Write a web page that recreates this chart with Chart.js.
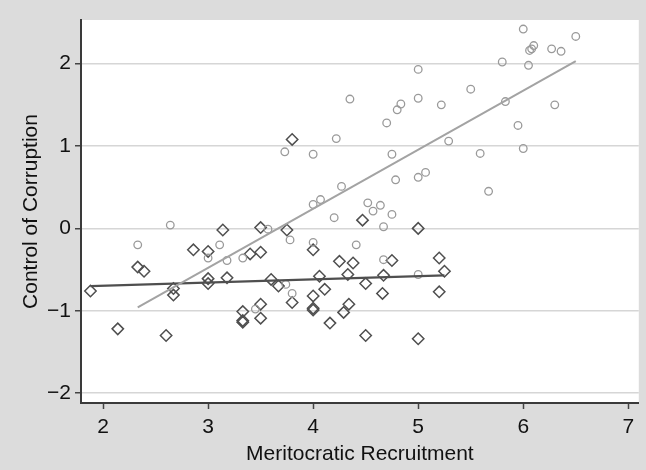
<!DOCTYPE html>
<html>
<head>
<meta charset="utf-8">
<script src="https://cdn.jsdelivr.net/npm/chart.js@4/dist/chart.umd.min.js"></script>
<style>
  html,body{margin:0;padding:0;background:#dcdcdc;}
  #wrap{width:646px;height:470px;}
</style>
</head>
<body>
<div id="wrap"><canvas id="c" width="646" height="470"></canvas></div>
<script>
/* axes */
const xTicks = [2,3,4,5,6,7];
const yTicks = [-2,-1,0,1,2];
const xTitle = 'Meritocratic Recruitment';
const yTitle = 'Control of Corruption';

/* circles (upper group) */
const circleX = [2.64,2.33,3.11,3.00,3.18,3.33,3.57,3.45,3.74,3.80,3.78,4.00,4.41,4.67,5.00,4.20,4.67,4.75,4.57,4.64,
  4.52,4.00,4.07,4.27,4.785,5.00,5.07,3.73,4.00,4.75,4.22,5.29,5.59,4.70,4.35,4.80,4.835,5.00,5.22,5.00,
  5.50,5.67,6.00,5.95,5.83,6.30,5.80,6.05,6.00,6.50,6.10,6.06,6.08,6.27,6.36];
const circleY = [0.04,-0.20,-0.20,-0.36,-0.39,-0.36,-0.01,-0.98,-0.68,-0.79,-0.14,-0.17,-0.20,-0.38,-0.56,0.13,0.02,0.17,0.21,0.28,
  0.31,0.29,0.35,0.51,0.59,0.62,0.68,0.93,0.90,0.90,1.09,1.06,0.91,1.28,1.57,1.44,1.51,1.58,1.50,1.93,
  1.69,0.45,0.97,1.25,1.54,1.50,2.02,1.98,2.42,2.33,2.22,2.16,2.18,2.18,2.15];

/* diamonds (lower group) */
const diamondX = [1.88,2.14,2.33,2.39,2.60,2.67,2.67,2.86,3.00,3.00,3.00,3.14,3.18,3.33,3.33,3.33,3.40,3.50,3.50,3.50,
  3.50,3.60,3.67,3.75,3.80,3.80,4.00,4.00,4.00,4.00,4.06,4.11,4.16,4.25,4.29,4.33,4.34,4.38,4.47,4.50,
  4.50,4.66,4.67,4.75,5.00,5.00,5.20,5.20,5.25];
const diamondY = [-0.76,-1.22,-0.47,-0.52,-1.30,-0.73,-0.81,-0.26,-0.28,-0.61,-0.67,-0.02,-0.60,-1.01,-1.12,-1.14,-0.31,-0.29,0.01,-0.92,
  -1.09,-0.62,-0.70,-0.02,1.08,-0.90,-0.26,-0.82,-0.97,-0.99,-0.58,-0.74,-1.15,-0.40,-1.02,-0.56,-0.92,-0.42,0.10,-0.67,
  -1.30,-0.79,-0.57,-0.39,0.00,-1.34,-0.36,-0.77,-0.52];

/* fitted lines */
const fitCircleX = [2.33,6.50];
const fitCircleY = [-0.96,2.03];
const fitDiamondX = [1.88,5.25];
const fitDiamondY = [-0.70,-0.57];

const pts = (xs,ys)=>xs.map((x,i)=>({x:x,y:ys[i]}));
const FONT = {family:'"Liberation Sans", Arial, Helvetica, sans-serif', size:21};
const minus = v => String(v).replace('-', '\u2212');

// white plotting region
const plotBg = {
  id:'plotBg',
  beforeDraw(chart){
    const {ctx, chartArea:a} = chart;
    ctx.save();
    ctx.fillStyle = '#fff';
    ctx.fillRect(a.left, a.top, a.right-a.left, a.bottom-a.top);
    ctx.restore();
  }
};

new Chart(document.getElementById('c'), {
  type:'scatter',
  data:{ datasets:[
    {data:pts(circleX,circleY), pointStyle:'circle', pointRadius:3.8, borderColor:'#9a9a9a', backgroundColor:'rgba(0,0,0,0)', borderWidth:1.3, order:3},
    {data:pts(diamondX,diamondY), pointStyle:'rectRot', pointRadius:5.7, borderColor:'#4f4f4f', backgroundColor:'rgba(0,0,0,0)', borderWidth:1.5, order:4},
    {type:'line', data:pts(fitCircleX,fitCircleY), borderColor:'#a3a3a3', borderWidth:2, pointRadius:0, order:1},
    {type:'line', data:pts(fitDiamondX,fitDiamondY), borderColor:'#4f4f4f', borderWidth:2.2, pointRadius:0, order:2}
  ]},
  options:{
    responsive:false, devicePixelRatio:1, animation:false,
    layout:{padding:{left:0, top:20, right:7, bottom:0}},
    plugins:{legend:{display:false}, tooltip:{enabled:false}},
    scales:{
      x:{
        type:'linear', min:1.79, max:7.10,
        afterBuildTicks: s => { s.ticks = xTicks.map(v=>({value:v})); },
        afterFit: s => { s.height = 67; },
        grid:{drawOnChartArea:false, tickColor:'#444', tickLength:6, tickWidth:1.5},
        border:{color:'#3a3a3a', width:2},
        ticks:{color:'#111', font:FONT, padding:6, maxRotation:0, callback:minus},
        title:{display:true, text:xTitle, color:'#111', font:FONT, padding:{top:0,bottom:3}}
      },
      y:{
        type:'linear', min:-2.12, max:2.53,
        afterBuildTicks: s => { s.ticks = yTicks.map(v=>({value:v})); },
        afterFit: s => { s.width = 81; },
        grid:{color:'#d6d6d6', lineWidth:1.5, tickColor:'#444', tickLength:6, tickWidth:1.5},
        border:{color:'#3a3a3a', width:2},
        ticks:{color:'#111', font:FONT, padding:4, callback:minus},
        title:{display:true, text:yTitle, color:'#111', font:FONT, padding:{top:19,bottom:0}}
      }
    }
  },
  plugins:[plotBg]
});
</script>
</body>
</html>
